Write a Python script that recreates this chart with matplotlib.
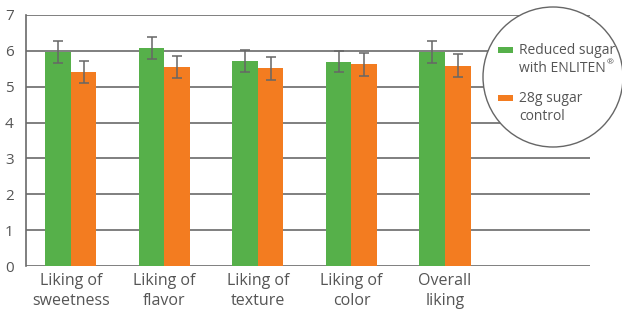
import matplotlib
matplotlib.use("Agg")
import matplotlib.pyplot as plt
from matplotlib.patches import Ellipse, Rectangle
import numpy as np

plt.rcParams['font.family'] = ['Open Sans', 'DejaVu Sans']

categories = ["Liking of\nsweetness", "Liking of\nflavor", "Liking of\ntexture", "Liking of\ncolor", "Overall\nliking"]
reduced = [5.97, 6.07, 5.71, 5.70, 5.97]
reduced_err = [0.31, 0.31, 0.30, 0.30, 0.31]
control = [5.40, 5.54, 5.51, 5.62, 5.59]
control_err = [0.31, 0.31, 0.31, 0.31, 0.31]
series_labels = [["Reduced sugar", "with ENLITEN"], ["28g sugar", "control"]]
series_marks = ["®", ""]
yticks = [0, 1, 2, 3, 4, 5, 6, 7]

GREEN = "#56B04A"
ORANGE = "#F37C20"
GRID = "#6a6a6a"
TEXT = "#555555"

W, H = 622, 316
fig = plt.figure(figsize=(W / 100, H / 100), dpi=100)
ax = fig.add_axes([26 / W, (H - 266) / H, 564 / W, 251 / H])

x = np.arange(len(categories))
bw = 0.273
ek = dict(ecolor="#666666", elinewidth=1.1, capsize=3.8, capthick=1.1)
ax.bar(x - bw / 2, reduced, bw, color=GREEN, yerr=reduced_err, error_kw=ek, zorder=3)
ax.bar(x + bw / 2, control, bw, color=ORANGE, yerr=control_err, error_kw=ek, zorder=3)

ax.set_xlim(-0.48, 5.55)
ax.set_ylim(0, 7)
ax.set_yticks(yticks)
ax.set_yticklabels([str(v) for v in yticks], fontsize=11, color=TEXT)
ax.set_xticks(x)
ax.set_xticklabels(categories, fontsize=11.5, color=TEXT, linespacing=1.3)
ax.tick_params(axis="both", length=0)
ax.tick_params(axis="y", pad=9)
ax.tick_params(axis="x", pad=5)
ax.grid(axis="y", color=GRID, linewidth=1.2, zorder=0)
ax.set_axisbelow(True)
for s in ["top", "right", "bottom"]:
    ax.spines[s].set_visible(False)
ax.spines["left"].set_color(GRID)
ax.spines["left"].set_linewidth(1.2)

# circular legend overlay (figure pixel coords)
def fx(px):
    return px / W

def fy(py):
    return 1 - py / H

circ = Ellipse((fx(553), fy(77)), 2 * 70 / W, 2 * 70 / H, transform=fig.transFigure,
               facecolor="white", edgecolor="#666666", linewidth=1.0, zorder=10)
fig.add_artist(circ)
colors = [GREEN, ORANGE]
ys = [50, 98]
renderer = fig.canvas.get_renderer()
for lines, mark, c, y0 in zip(series_labels, series_marks, colors, ys):
    fig.add_artist(Rectangle((fx(498), fy(y0 + 3.2)), 15 / W, 6.5 / H, transform=fig.transFigure,
                             facecolor=c, edgecolor="none", zorder=11))
    for i, line in enumerate(lines):
        t = fig.text(fx(519), fy(y0 + i * 18.5), line, fontsize=10, color=TEXT,
                     va="center", ha="left", zorder=12)
        if mark and i == len(lines) - 1:
            bb = t.get_window_extent(renderer)
            fig.text(bb.x1 / W + 0.5 / W, fy(y0 + i * 18.5 - 6), mark, fontsize=6,
                     color=TEXT, va="center", ha="left", zorder=12)

fig.savefig("out.png", dpi=100)
